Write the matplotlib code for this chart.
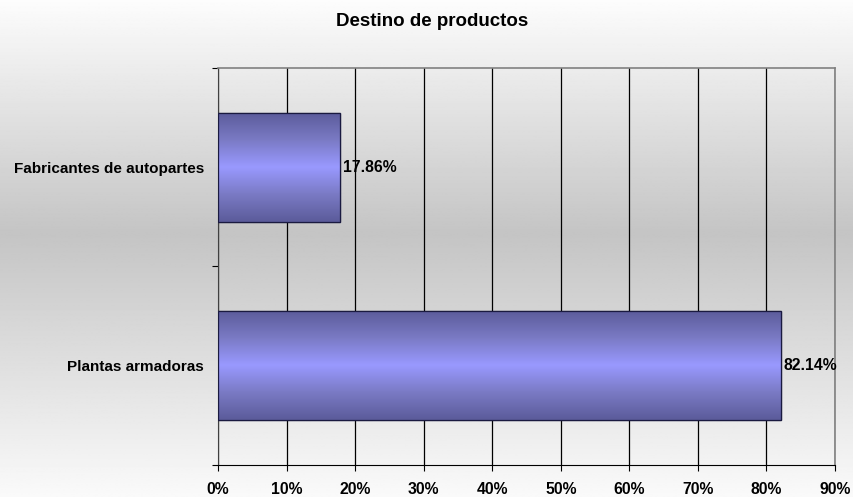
import matplotlib.pyplot as plt
import numpy as np
from matplotlib.colors import LinearSegmentedColormap

plt.rcParams['font.family'] = ['Liberation Sans', 'DejaVu Sans']
plt.rcParams['font.weight'] = 'bold'

categories = ['Plantas armadoras', 'Fabricantes de autopartes']
shares = [82.14, 17.86]
value_labels = ['82.14%', '17.86%']
x_ticks = [0, 10, 20, 30, 40, 50, 60, 70, 80, 90]

fig = plt.figure(figsize=(8.54, 4.97), dpi=100)

# grey band behind the whole chart: light at top and bottom, darker in the middle
bg = fig.add_axes([0, 0, 1, 1], zorder=-10)
yy = np.linspace(0, 1, 400)
shade = np.interp(yy, [0, 0.47, 1], [0.99, 0.77, 0.98])
bg.imshow(np.repeat(shade[:, None], 2, axis=1), cmap='gray', vmin=0, vmax=1,
          aspect='auto', extent=[0, 1, 0, 1], origin='upper')
bg.set_xlim(0, 1)
bg.set_ylim(0, 1)
bg.axis('off')

ax = fig.add_axes([0.2553, 0.0644, 0.7225, 0.7988])
ax.patch.set_alpha(0)

y = np.arange(len(categories))
bars = ax.barh(y, shares, height=0.55, color='#9999ff', edgecolor='#1a1a40',
               linewidth=0.9, zorder=3)

bar_cmap = LinearSegmentedColormap.from_list(
    'bar', ['#5b5b9a', '#7a7ac4', '#9999ff', '#7a7ac4', '#5b5b9a'])
grad = np.linspace(0, 1, 256)[:, None]
for b in bars:
    x0, y0, w, h = b.get_x(), b.get_y(), b.get_width(), b.get_height()
    im = ax.imshow(np.repeat(grad, 2, axis=1), cmap=bar_cmap, aspect='auto',
                   extent=[x0, x0 + w, y0, y0 + h], zorder=3.5,
                   interpolation='bilinear')
    im.set_clip_path(b)
    ax.add_patch(plt.Rectangle((x0, y0), w, h, fill=False,
                               edgecolor='#1a1a40', linewidth=0.9, zorder=4))

for yi, v, lab in zip(y, shares, value_labels):
    ax.text(v + 0.4, yi, lab, va='center', ha='left', fontsize=11.3,
            fontweight='bold', zorder=5)

ax.set_xlim(0, 90)
ax.set_ylim(-0.5, 1.5)

ax.set_xticks(x_ticks)
ax.set_xticklabels([f'{t}%' for t in x_ticks])
ax.xaxis.grid(True, color='black', linewidth=0.9, zorder=1)
ax.set_axisbelow(True)

ax.set_yticks([-0.5, 0.5, 1.5])
ax.set_yticklabels([])
ax.set_yticks(y, minor=True)
ax.set_yticklabels(categories, minor=True)
ax.tick_params(axis='y', which='minor', length=0, pad=10, labelsize=11)
ax.tick_params(axis='y', which='major', length=4, direction='out')
ax.tick_params(axis='x', length=4, direction='out', pad=8, labelsize=11.3)

for side in ['top', 'right']:
    ax.spines[side].set_color('#808080')
    ax.spines[side].set_linewidth(1.2)
ax.spines['left'].set_color('#404040')
ax.spines['bottom'].set_color('black')

fig.text(0.506, 0.957, 'Destino de productos', ha='center', va='center',
         fontsize=13.5, fontweight='bold')

fig.savefig('out.png', dpi=100)
